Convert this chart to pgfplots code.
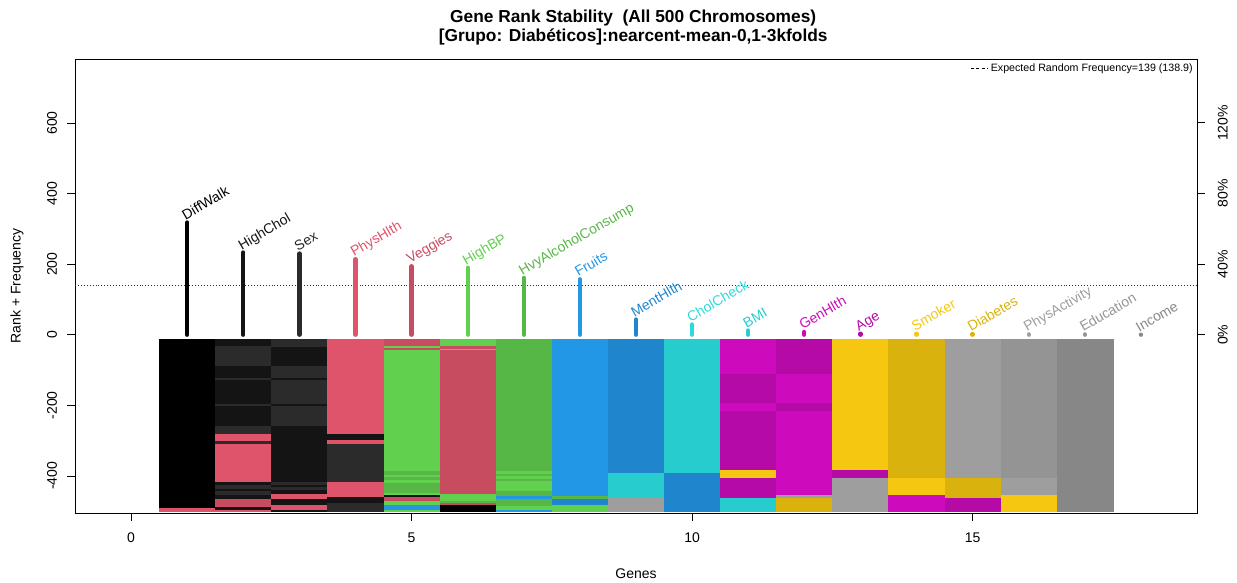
\documentclass[border=0pt]{standalone}
\usepackage{pgfplots}
\pgfplotsset{compat=1.18}
\usepackage{fontspec}
\setmainfont{Liberation Sans}

% palette
\definecolor{cK}{HTML}{000000}
\definecolor{cD1}{HTML}{141414}
\definecolor{cD2}{HTML}{2B2B2B}
\definecolor{cPink}{HTML}{DF536B}
\definecolor{cRed}{HTML}{C84C5F}
\definecolor{cGreen}{HTML}{61D04F}
\definecolor{cDGreen}{HTML}{56B746}
\definecolor{cBlue}{HTML}{2297E6}
\definecolor{cDBlue}{HTML}{1F86CD}
\definecolor{cCyan}{HTML}{26CCCE}
\definecolor{cCyanL}{HTML}{2CDADD}
\definecolor{cMag}{HTML}{CD0BBC}
\definecolor{cDMag}{HTML}{B50AA6}
\definecolor{cYel}{HTML}{F5C710}
\definecolor{cDYel}{HTML}{DAB20E}
\definecolor{cGrayA}{HTML}{9E9E9E}
\definecolor{cGrayB}{HTML}{949494}
\definecolor{cGrayC}{HTML}{878787}

\newcommand{\ticksize}{\fontsize{10.5}{12}\selectfont}

% one block of the rank map: column, first and last chromosome (0..500), colour
\newcommand{\seg}[4]{%
  \addplot[fill=#4, draw=#4, line width=0.15pt, forget plot]
    table[row sep=\\, x expr={#1+\thisrow{d}}, y expr={-12.2-0.9768*\thisrow{k}}]
    {d k\\ -0.5 #2\\ 0.5 #2\\ 0.5 #3\\ -0.5 #3\\};}

% one gene: position, frequency, name, colour
\newcommand{\gene}[4]{%
  \addplot[ycomb, draw=#4, line width=3.2pt, line cap=round, forget plot,
    nodes near coords={#3},
    every node near coord/.append style={text=#4, font=\ticksize,
      anchor=base west, inner sep=0pt, xshift=-2.5pt, yshift=1pt, rotate=30}]
    coordinates {(#1,#2)};}

\begin{document}
\begin{tikzpicture}
\useasboundingbox (0,0) rectangle (927.75pt,436.5pt);

\begin{axis}[
  at={(56.25pt,51.75pt)}, anchor=south west,
  scale only axis, width=841.5pt, height=340.5pt,
  xmin=-1, xmax=19, ymin=-505, ymax=781,
  xtick={0,5,10,15}, ytick={-400,-200,0,200,400,600},
  xtick pos=lower, ytick pos=lower,
  tick align=outside, major tick length=6pt,
  tick style={black, line width=0.6pt},
  axis line style={line width=0.6pt},
  ticklabel style={font=\ticksize},
  /pgf/number format/assume math mode=true,
  yticklabel style={xshift=-4pt, rotate=90, anchor=south},
  xticklabel style={yshift=-5pt},
  clip=false,
  legend style={at={(1,1)}, anchor=north east, draw=none, fill=none,
    font=\fontsize{8}{9}\selectfont, inner xsep=1pt, inner ysep=1.5pt},
  legend image code/.code={\draw[#1] (0pt,0pt) -- (13pt,0pt);},
]

% rank map, one column per rank position
\seg{1}{0}{490}{cK}
\seg{1}{490}{500}{cPink}

\seg{2}{0}{21}{cD1}
\seg{2}{21}{79}{cD2}
\seg{2}{79}{113}{cD1}
\seg{2}{113}{120}{cD2}
\seg{2}{120}{189}{cD1}
\seg{2}{189}{195}{cD2}
\seg{2}{195}{253}{cD1}
\seg{2}{253}{276}{cD2}
\seg{2}{276}{295}{cPink}
\seg{2}{295}{304}{cD2}
\seg{2}{304}{415}{cPink}
\seg{2}{415}{425}{cD1}
\seg{2}{425}{434}{cD2}
\seg{2}{434}{442}{cD1}
\seg{2}{442}{452}{cD2}
\seg{2}{452}{464}{cD1}
\seg{2}{464}{488}{cRed}
\seg{2}{488}{495}{cD1}
\seg{2}{495}{500}{cPink}

\seg{3}{0}{23}{cD2}
\seg{3}{23}{79}{cD1}
\seg{3}{79}{113}{cD2}
\seg{3}{113}{120}{cD1}
\seg{3}{120}{189}{cD2}
\seg{3}{189}{195}{cD1}
\seg{3}{195}{253}{cD2}
\seg{3}{253}{415}{cD1}
\seg{3}{415}{423}{cD2}
\seg{3}{423}{430}{cD1}
\seg{3}{430}{437}{cD2}
\seg{3}{437}{450}{cD1}
\seg{3}{450}{464}{cPink}
\seg{3}{464}{483}{cD1}
\seg{3}{483}{497}{cPink}
\seg{3}{497}{500}{cD1}

\seg{4}{0}{275}{cPink}
\seg{4}{275}{294}{cD1}
\seg{4}{294}{304}{cPink}
\seg{4}{304}{416}{cD2}
\seg{4}{416}{458}{cPink}
\seg{4}{458}{476}{cD1}
\seg{4}{476}{500}{cD2}

\seg{5}{0}{21}{cRed}
\seg{5}{21}{26}{cGreen}
\seg{5}{26}{31}{cRed}
\seg{5}{31}{384}{cGreen}
\seg{5}{384}{394}{cDGreen}
\seg{5}{394}{401}{cGreen}
\seg{5}{401}{409}{cDGreen}
\seg{5}{409}{418}{cGreen}
\seg{5}{418}{447}{cDGreen}
\seg{5}{447}{452}{cGreen}
\seg{5}{452}{458}{cD1}
\seg{5}{458}{471}{cRed}
\seg{5}{471}{483}{cGreen}
\seg{5}{483}{497}{cBlue}
\seg{5}{497}{500}{cGreen}

\seg{6}{0}{21}{cGreen}
\seg{6}{21}{28}{cRed}
\seg{6}{28}{33}{cGreen}
\seg{6}{33}{450}{cRed}
\seg{6}{450}{471}{cGreen}
\seg{6}{471}{476}{cDGreen}
\seg{6}{476}{483}{cRed}
\seg{6}{483}{500}{cK}

\seg{7}{0}{384}{cDGreen}
\seg{7}{384}{392}{cGreen}
\seg{7}{392}{398}{cDGreen}
\seg{7}{398}{405}{cGreen}
\seg{7}{405}{413}{cDGreen}
\seg{7}{413}{440}{cGreen}
\seg{7}{440}{456}{cDGreen}
\seg{7}{456}{464}{cBlue}
\seg{7}{464}{485}{cDGreen}
\seg{7}{485}{495}{cGreen}
\seg{7}{495}{500}{cBlue}

\seg{8}{0}{456}{cBlue}
\seg{8}{456}{463}{cDGreen}
\seg{8}{463}{482}{cDBlue}
\seg{8}{482}{500}{cGreen}

\seg{9}{0}{390}{cDBlue}
\seg{9}{390}{462}{cCyan}
\seg{9}{462}{500}{cGrayA}

\seg{10}{0}{390}{cCyan}
\seg{10}{390}{500}{cDBlue}

\seg{11}{0}{103}{cMag}
\seg{11}{103}{186}{cDMag}
\seg{11}{186}{208}{cMag}
\seg{11}{208}{380}{cDMag}
\seg{11}{380}{404}{cYel}
\seg{11}{404}{462}{cDMag}
\seg{11}{462}{500}{cCyan}

\seg{12}{0}{103}{cDMag}
\seg{12}{103}{186}{cMag}
\seg{12}{186}{208}{cDMag}
\seg{12}{208}{452}{cMag}
\seg{12}{452}{460}{cGrayA}
\seg{12}{460}{500}{cDYel}

\seg{13}{0}{380}{cYel}
\seg{13}{380}{404}{cDMag}
\seg{13}{404}{500}{cGrayA}

\seg{14}{0}{404}{cDYel}
\seg{14}{404}{452}{cYel}
\seg{14}{452}{500}{cMag}

\seg{15}{0}{404}{cGrayA}
\seg{15}{404}{460}{cDYel}
\seg{15}{460}{500}{cDMag}

\seg{16}{0}{404}{cGrayB}
\seg{16}{404}{452}{cGrayA}
\seg{16}{452}{500}{cYel}

\seg{17}{0}{500}{cGrayC}

% expected random frequency
\addplot[black!80, line width=0.6pt, dash pattern=on 0.6pt off 1.6pt, forget plot]
  coordinates {(-1,139) (19,139)};

% selection frequency of each gene
\gene{1}{318}{DiffWalk}{cK}
\gene{2}{233}{HighChol}{cD1}
\gene{3}{230}{Sex}{cD2}
\gene{4}{214}{PhysHlth}{cPink}
\gene{5}{194}{Veggies}{cRed}
\gene{6}{190}{HighBP}{cGreen}
\gene{7}{161}{HvyAlcoholConsump}{cDGreen}
\gene{8}{157}{Fruits}{cBlue}
\gene{9}{43}{MentHlth}{cDBlue}
\gene{10}{29}{CholCheck}{cCyanL}
\gene{11}{12}{BMI}{cCyan}
\gene{12}{8}{GenHlth}{cMag}
\gene{13}{3}{Age}{cDMag}
\gene{14}{3}{Smoker}{cYel}
\gene{15}{2}{Diabetes}{cDYel}
\gene{16}{1}{PhysActivity}{cGrayA}
\gene{17}{1}{Education}{cGrayB}
\gene{18}{0}{Income}{cGrayC}

\addlegendimage{black, line width=0.5pt, dash pattern=on 2.4pt off 1.8pt}
\addlegendentry{Expected Random Frequency=139 (138.9)}

% titles and axis labels
\node[anchor=base, font=\fontsize{13}{15}\selectfont\bfseries]
  at (rel axis cs:0.4975,1.0815) {Gene Rank Stability\ \ (All 500 Chromosomes)};
\node[anchor=base, font=\fontsize{13}{15}\selectfont\bfseries]
  at (rel axis cs:0.4975,1.0396) {[Grupo: Diabéticos]:nearcent-mean-0,1-3kfolds};
\node[anchor=base, font=\ticksize] at (rel axis cs:0.5,-0.1432) {Genes};
\node[rotate=90, font=\ticksize] at (rel axis cs:-0.0517,0.5) {Rank + Frequency};
\end{axis}

% percentage scale on the right
\begin{axis}[
  at={(56.25pt,51.75pt)}, anchor=south west,
  scale only axis, width=841.5pt, height=340.5pt,
  xmin=-1, xmax=19, ymin=-101, ymax=156.2,
  axis x line=none, axis y line*=right,
  ytick={0,40,80,120}, yticklabels={0\%,40\%,80\%,120\%},
  tick align=outside, major tick length=6pt,
  tick style={black, line width=0.6pt},
  axis line style={line width=0.6pt},
  ticklabel style={font=\ticksize},
  yticklabel style={xshift=6pt, rotate=90, anchor=north},
]
\addplot[draw=none, forget plot] coordinates {(0,0)};
\end{axis}
\end{tikzpicture}
\end{document}
